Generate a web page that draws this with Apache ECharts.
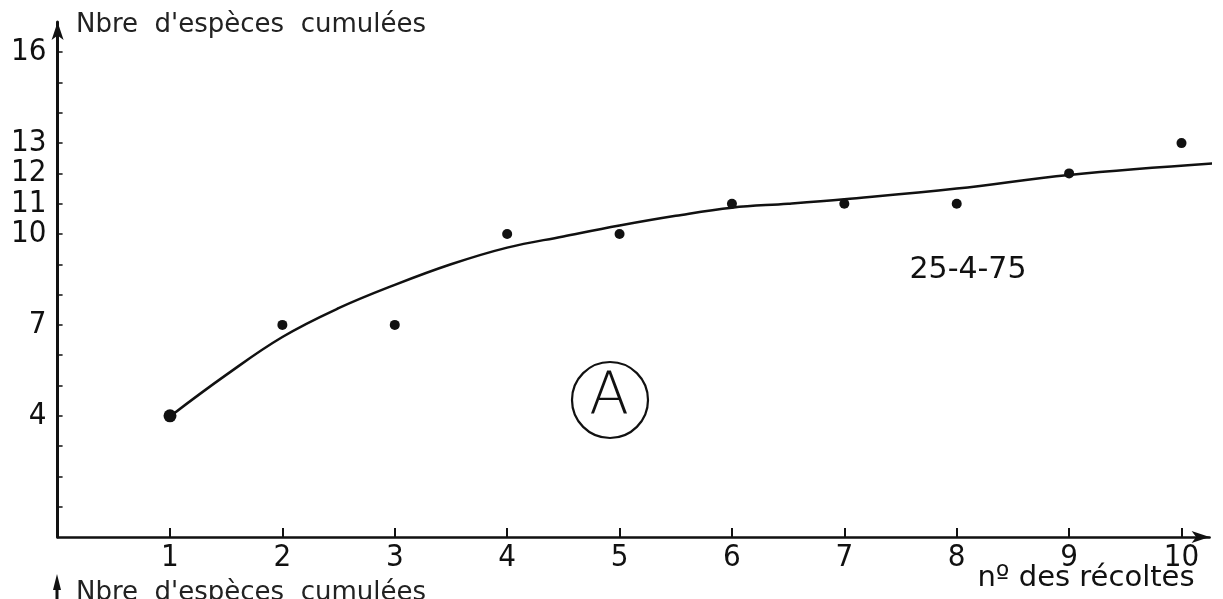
<!DOCTYPE html>
<html>
<head>
<meta charset="utf-8">
<script src="https://cdn.jsdelivr.net/npm/echarts@6/dist/echarts.min.js"></script>
<style>
  html, body { margin: 0; padding: 0; background: #fff; }
  #chart { width: 1223px; height: 599px; }
</style>
</head>
<body>
<div id="chart"></div>
<script>
// Numéro de la récolte et nombre cumulé d'espèces observées
const recoltes = [1, 2, 3, 4, 5, 6, 7, 8, 9, 10];
const especesCumulees = [4, 7, 7, 10, 10, 11, 11, 11, 12, 13];

// Courbe d'ajustement tracée à la main (abscisse, ordonnée)
const courbeX = [1, 1.5, 2, 2.5, 3, 3.5, 4, 4.5, 5, 5.5, 6, 6.5, 7, 8, 9, 10.37];
const courbeY = [3.98, 5.35, 6.6, 7.55, 8.32, 9.0, 9.55, 9.92, 10.28, 10.6, 10.87, 11.0, 11.15, 11.5, 11.95, 12.35];

// Graduations
const ticksY = [1, 2, 3, 4, 5, 6, 7, 8, 9, 10, 11, 12, 13, 14, 15, 16];
const labelsY = [4, 7, 10, 11, 12, 13, 16];
const ticksX = [1, 2, 3, 4, 5, 6, 7, 8, 9, 10];

const titreY = "Nbre  d'espèces  cumulées";
const titreX = 'nº des récoltes';
const dateReleve = '25-4-75';
const repere = 'A';

const ink = '#111';
const digitFont = "'Liberation Sans Narrow', 'DejaVu Sans Condensed', 'Liberation Sans', sans-serif";
const textFont = "'DejaVu Sans', sans-serif";

const chart = echarts.init(document.getElementById('chart'), null, { renderer: 'canvas' });

chart.setOption({
  backgroundColor: '#fff',
  animation: false,
  grid: { left: 57.6, right: 13.4, top: 21.9, bottom: 62, containLabel: false },
  xAxis: {
    type: 'value',
    min: 0,
    max: 10.25,
    axisLine: {
      show: true,
      symbol: ['none', 'arrow'],
      symbolSize: [9, 18],
      lineStyle: { color: ink, width: 2.5 }
    },
    axisTick: {
      show: true,
      inside: true,
      length: 9,
      customValues: ticksX,
      lineStyle: { color: ink, width: 2 }
    },
    axisLabel: {
      show: true,
      customValues: ticksX,
      margin: 5,
      color: ink,
      fontSize: 31,
      fontFamily: digitFont
    },
    splitLine: { show: false }
  },
  yAxis: {
    type: 'value',
    min: 0,
    max: 17,
    axisLine: {
      show: true,
      symbol: ['none', 'arrow'],
      symbolSize: [9, 18],
      lineStyle: { color: ink, width: 3 }
    },
    axisTick: {
      show: true,
      inside: true,
      length: 5,
      customValues: ticksY,
      lineStyle: { color: ink, width: 1.5 }
    },
    axisLabel: {
      show: true,
      customValues: labelsY,
      margin: 11,
      color: ink,
      fontSize: 31,
      fontFamily: digitFont
    },
    splitLine: { show: false }
  },
  series: [
    {
      type: 'line',
      name: 'ajustement',
      data: courbeX.map((x, i) => [x, courbeY[i]]),
      smooth: 0.4,
      showSymbol: false,
      clip: false,
      lineStyle: { color: ink, width: 2.5 },
      z: 2
    },
    {
      type: 'scatter',
      name: 'relevés',
      data: recoltes.map((x, i) => [x, especesCumulees[i]]),
      symbol: 'circle',
      symbolSize: (v, p) => (p.dataIndex === 0 ? 13 : 10),
      itemStyle: { color: ink, opacity: 1 },
      clip: false,
      z: 3
    }
  ],
  graphic: [
    {
      type: 'text',
      left: 76,
      top: 12,
      style: { text: titreY, font: '26px ' + textFont, fill: '#222' }
    },
    {
      type: 'text',
      x: 1086,
      y: 578,
      style: { text: titreX, font: '29px ' + textFont, fill: ink, align: 'center', verticalAlign: 'middle' }
    },
    {
      type: 'text',
      x: 968,
      y: 270,
      style: { text: dateReleve, font: '30px ' + textFont, fill: ink, align: 'center', verticalAlign: 'middle' }
    },
    {
      type: 'circle',
      shape: { cx: 610, cy: 400, r: 38 },
      style: { fill: 'none', stroke: ink, lineWidth: 2.2 }
    },
    {
      type: 'text',
      x: 609,
      y: 399,
      style: { text: repere, font: '200 58px ' + textFont, fill: ink, align: 'center', verticalAlign: 'middle' }
    },
    // début de la figure suivante, coupée par le bord inférieur
    {
      type: 'line',
      shape: { x1: 57, y1: 584, x2: 57, y2: 599 },
      style: { stroke: ink, lineWidth: 3 }
    },
    {
      type: 'polygon',
      shape: { points: [[57, 574], [53, 590], [61, 590]] },
      style: { fill: ink }
    },
    {
      type: 'text',
      left: 76,
      top: 580,
      style: { text: titreY, font: '26px ' + textFont, fill: '#222' }
    }
  ]
});
</script>
</body>
</html>
